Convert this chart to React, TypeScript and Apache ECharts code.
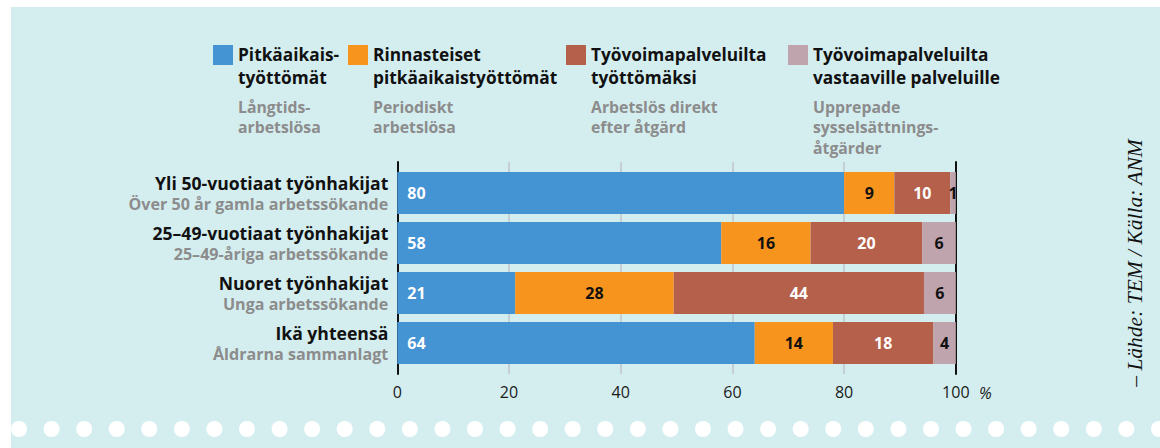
import React, { useEffect, useRef } from "react";
import * as echarts from "echarts";

const categoriesFi = [
  "Yli 50-vuotiaat työnhakijat",
  "25–49-vuotiaat työnhakijat",
  "Nuoret työnhakijat",
  "Ikä yhteensä",
];
const categoriesSv = [
  "Över 50 år gamla arbetssökande",
  "25–49-åriga arbetssökande",
  "Unga arbetssökande",
  "Åldrarna sammanlagt",
];

const seriesFi = [
  "Pitkäaikais-\ntyöttömät",
  "Rinnasteiset\npitkäaikaistyöttömät",
  "Työvoimapalveluilta\ntyöttömäksi",
  "Työvoimapalveluilta\nvastaaville palveluille",
];
const seriesSv = [
  "Långtids-\narbetslösa",
  "Periodiskt\narbetslösa",
  "Arbetslös direkt\nefter åtgärd",
  "Upprepade\nsysselsättnings-\nåtgärder",
];

// bar widths (percent)
const longTerm = [80, 58, 21.1, 64];
const periodic = [9, 16, 28.4, 14];
const afterMeasure = [10, 20, 44.8, 18];
const repeated = [1, 6, 5.7, 4];

// printed numbers
const longTermLabels = [80, 58, 21, 64];
const periodicLabels = [9, 16, 28, 14];
const afterMeasureLabels = [10, 20, 44, 18];
const repeatedLabels = [1, 6, 6, 4];

const xTicks = [0, 20, 40, 60, 80, 100];

const colors = ["#4493d3", "#f7941e", "#b5604a", "#c0a4ad"];
const labelColors = ["#ffffff", "#111111", "#ffffff", "#111111"];

const FONT = "'Open Sans'";

export default function App() {
  const ref = useRef<HTMLDivElement>(null);

  useEffect(() => {
    if (!ref.current) return;
    const chart = echarts.init(ref.current, null, { renderer: "svg" });

    const values = [longTerm, periodic, afterMeasure, repeated];
    const labels = [longTermLabels, periodicLabels, afterMeasureLabels, repeatedLabels];

    const gridLeft = 397.3;
    const gridWidth = 558.5;

    const legendX = [213, 348, 566, 788];
    const legendGraphics: any[] = [];
    seriesFi.forEach((name, i) => {
      legendGraphics.push({
        type: "rect",
        shape: { x: legendX[i], y: 45, width: 20, height: 20 },
        style: { fill: colors[i] },
      });
      legendGraphics.push({
        type: "text",
        x: legendX[i] + 25,
        y: 43,
        style: {
          text: name,
          font: `bold 17.3px ${FONT}`,
          fill: "#111111",
          lineHeight: 23,
          verticalAlign: "top",
          align: "left",
        },
      });
      legendGraphics.push({
        type: "text",
        x: legendX[i] + 25,
        y: 96.5,
        style: {
          text: seriesSv[i],
          font: `bold 15.8px ${FONT}`,
          fill: "#8c8c8c",
          lineHeight: 20.5,
          verticalAlign: "top",
          align: "left",
        },
      });
    });

    const dots: any[] = [];
    for (let k = 0; k < 36; k++) {
      dots.push({
        type: "circle",
        shape: { cx: 19 + k * 32.57, cy: 429, r: 8 },
        style: { fill: "#ffffff" },
      });
    }

    const option: any = {
      animation: false,
      backgroundColor: "#d4eef0",
      textStyle: { fontFamily: FONT },
      grid: [
        { left: gridLeft, width: gridWidth, top: 168, height: 200 },
        { left: gridLeft, width: gridWidth, top: 162, height: 212 },
      ],
      xAxis: [
        { gridIndex: 0, type: "value", min: 0, max: 100, interval: 20, show: false },
        {
          gridIndex: 1,
          type: "value",
          min: xTicks[0],
          max: xTicks[xTicks.length - 1],
          interval: 20,
          axisLine: { show: false },
          axisTick: { show: false },
          axisLabel: {
            show: true,
            margin: 10,
            fontSize: 16,
            color: "#1a1a1a",
            fontFamily: FONT,
          },
          splitLine: {
            show: true,
            showMinLine: false,
            showMaxLine: false,
            lineStyle: { color: "#bec4c6", width: 1.5 },
          },
        },
      ],
      yAxis: [
        {
          gridIndex: 0,
          type: "category",
          inverse: true,
          data: categoriesFi,
          axisLine: { show: false },
          axisTick: { show: false },
          splitLine: { show: false },
          axisLabel: {
            margin: 9,
            formatter: (value: string, index: number) =>
              `{a|${value}}\n{b|${categoriesSv[index]}}`,
            rich: {
              a: {
                fontFamily: FONT,
                fontWeight: "bold",
                fontSize: 17.6,
                color: "#111111",
                lineHeight: 21,
                align: "right",
              },
              b: {
                fontFamily: FONT,
                fontWeight: "bold",
                fontSize: 16.1,
                color: "#8c8c8c",
                lineHeight: 21,
                align: "right",
              },
            },
          },
        },
        {
          gridIndex: 1,
          type: "value",
          position: "left",
          min: 0,
          max: 1,
          axisLine: { show: true, onZero: false, lineStyle: { color: "#111111", width: 2 } },
          axisTick: { show: false },
          axisLabel: { show: false },
          splitLine: { show: false },
        },
        {
          gridIndex: 1,
          type: "value",
          position: "right",
          min: 0,
          max: 1,
          axisLine: { show: true, onZero: false, lineStyle: { color: "#111111", width: 2 } },
          axisTick: { show: false },
          axisLabel: { show: false },
          splitLine: { show: false },
        },
      ],
      series: values.map((vals, i) => ({
        type: "bar",
        name: seriesFi[i],
        stack: "total",
        xAxisIndex: 0,
        yAxisIndex: 0,
        barWidth: 42,
        data: vals,
        itemStyle: { color: colors[i] },
        label: {
          show: true,
          position: i === 0 ? "insideLeft" : "inside",
          distance: 10,
          formatter: (p: any) => String(labels[i][p.dataIndex]),
          color: labelColors[i],
          fontFamily: FONT,
          fontWeight: "bold",
          fontSize: 16,
        },
        z: 3,
      })),
      graphic: [
        { type: "rect", shape: { x: 0, y: 0, width: 11, height: 448 }, style: { fill: "#ffffff" } },
        { type: "rect", shape: { x: 0, y: 0, width: 1160, height: 7 }, style: { fill: "#ffffff" } },
        ...dots,
        ...legendGraphics,
        {
          type: "text",
          x: 979,
          y: 393,
          style: {
            text: "%",
            font: `italic 16px ${FONT}`,
            fill: "#1a1a1a",
            verticalAlign: "middle",
            align: "left",
          },
        },
        {
          type: "text",
          x: 1135,
          y: 263,
          rotation: Math.PI / 2,
          style: {
            text: "– Lähde: TEM / Källa: ANM",
            font: "italic 21.5px 'Liberation Serif'",
            fill: "#111111",
            align: "center",
            verticalAlign: "middle",
          },
        },
      ],
    };

    chart.setOption(option);
    return () => chart.dispose();
  }, []);

  return (
    <div
      ref={ref}
      style={{ position: "absolute", left: 0, top: 0, width: 1160, height: 448 }}
    />
  );
}
